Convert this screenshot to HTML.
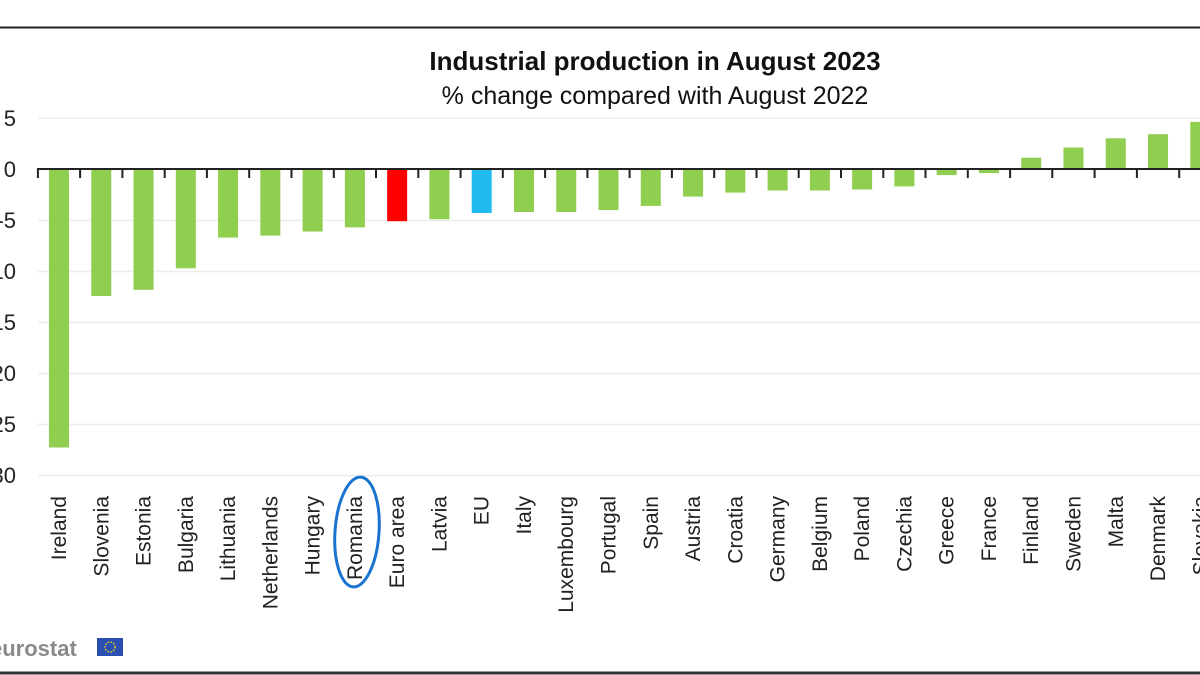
<!DOCTYPE html>
<html><head><style>body{margin:0;background:#fff}svg{display:block}</style></head>
<body>
<svg width="1200" height="675" xmlns="http://www.w3.org/2000/svg" font-family="Liberation Sans, Arial, sans-serif">
<rect width="1200" height="675" fill="#fff"/>
<line x1="0" y1="27.5" x2="1200" y2="27.5" stroke="#222" stroke-width="2"/>
<line x1="0" y1="673" x2="1200" y2="673" stroke="#333" stroke-width="3"/>
<text x="655" y="70" text-anchor="middle" font-size="26" font-weight="bold" fill="#111">Industrial production in August 2023</text>
<text x="655" y="104" text-anchor="middle" font-size="25" fill="#111">% change compared with August 2022</text>
<g stroke="#eee" stroke-width="1.5">
<line x1="38" x2="1200" y1="118" y2="118"/><line x1="38" x2="1200" y1="220.5" y2="220.5"/><line x1="38" x2="1200" y1="271.5" y2="271.5"/><line x1="38" x2="1200" y1="322.5" y2="322.5"/><line x1="38" x2="1200" y1="373.5" y2="373.5"/><line x1="38" x2="1200" y1="424.5" y2="424.5"/><line x1="38" x2="1200" y1="475.5" y2="475.5"/>
</g>
<g font-size="22" fill="#222" text-anchor="end">
<text x="16" y="126">5</text><text x="16" y="177">0</text><text x="16" y="228">-5</text><text x="16" y="279">-10</text><text x="16" y="330">-15</text><text x="16" y="381">-20</text><text x="16" y="432">-25</text><text x="16" y="483">-30</text>
</g>
<g fill="#8fce4e">
<rect x="49" y="169" width="20" height="278.5"/>
<rect x="91.27" y="169" width="20" height="127"/>
<rect x="133.54" y="169" width="20" height="120.8"/>
<rect x="175.81" y="169" width="20" height="99.3"/>
<rect x="218.08" y="169" width="20" height="68.6"/>
<rect x="260.35" y="169" width="20" height="66.6"/>
<rect x="302.62" y="169" width="20" height="62.5"/>
<rect x="344.89" y="169" width="20" height="58.4"/>
<rect x="387.16" y="169" width="20" height="52.2" fill="#ff0000"/>
<rect x="429.43" y="169" width="20" height="50.2"/>
<rect x="471.7" y="169" width="20" height="44" fill="#22bbf0"/>
<rect x="513.97" y="169" width="20" height="43"/>
<rect x="556.24" y="169" width="20" height="43"/>
<rect x="598.51" y="169" width="20" height="41"/>
<rect x="640.78" y="169" width="20" height="36.9"/>
<rect x="683.05" y="169" width="20" height="27.6"/>
<rect x="725.32" y="169" width="20" height="23.6"/>
<rect x="767.59" y="169" width="20" height="21.5"/>
<rect x="809.86" y="169" width="20" height="21.5"/>
<rect x="852.13" y="169" width="20" height="20.5"/>
<rect x="894.4" y="169" width="20" height="17.4"/>
<rect x="936.67" y="169" width="20" height="6.1"/>
<rect x="978.94" y="169" width="20" height="4.1"/>
<rect x="1021.21" y="157.7" width="20" height="11.3"/>
<rect x="1063.48" y="147.5" width="20" height="21.5"/>
<rect x="1105.75" y="138.3" width="20" height="30.7"/>
<rect x="1148.02" y="134.2" width="20" height="34.8"/>
<rect x="1190.29" y="121.9" width="20" height="47.1"/>
</g>
<line x1="37" y1="169" x2="1200" y2="169" stroke="#222" stroke-width="2"/>
<path stroke="#222" stroke-width="2" d="M37.9 169v9M80.1 169v9M122.4 169v9M164.7 169v9M206.9 169v9M249.2 169v9M291.5 169v9M333.8 169v9M376 169v9M418.3 169v9M460.6 169v9M502.8 169v9M545.1 169v9M587.4 169v9M629.6 169v9M671.9 169v9M714.2 169v9M756.5 169v9M798.7 169v9M841 169v9M883.3 169v9M925.5 169v9M967.8 169v9M1010.1 169v9M1052.3 169v9M1094.6 169v9M1136.9 169v9M1179.2 169v9"/>
<g font-size="21" fill="#222" text-anchor="end">
<text transform="translate(66,496) rotate(-90)">Ireland</text>
<text transform="translate(108.27,496) rotate(-90)">Slovenia</text>
<text transform="translate(150.54,496) rotate(-90)">Estonia</text>
<text transform="translate(192.81,496) rotate(-90)">Bulgaria</text>
<text transform="translate(235.08,496) rotate(-90)">Lithuania</text>
<text transform="translate(277.35,496) rotate(-90)">Netherlands</text>
<text transform="translate(319.62,496) rotate(-90)">Hungary</text>
<text transform="translate(361.89,496) rotate(-90)">Romania</text>
<text transform="translate(404.16,496) rotate(-90)">Euro area</text>
<text transform="translate(446.43,496) rotate(-90)">Latvia</text>
<text transform="translate(488.7,496) rotate(-90)">EU</text>
<text transform="translate(530.97,496) rotate(-90)">Italy</text>
<text transform="translate(573.24,496) rotate(-90)">Luxembourg</text>
<text transform="translate(615.51,496) rotate(-90)">Portugal</text>
<text transform="translate(657.78,496) rotate(-90)">Spain</text>
<text transform="translate(700.05,496) rotate(-90)">Austria</text>
<text transform="translate(742.32,496) rotate(-90)">Croatia</text>
<text transform="translate(784.59,496) rotate(-90)">Germany</text>
<text transform="translate(826.86,496) rotate(-90)">Belgium</text>
<text transform="translate(869.13,496) rotate(-90)">Poland</text>
<text transform="translate(911.4,496) rotate(-90)">Czechia</text>
<text transform="translate(953.67,496) rotate(-90)">Greece</text>
<text transform="translate(995.94,496) rotate(-90)">France</text>
<text transform="translate(1038.21,496) rotate(-90)">Finland</text>
<text transform="translate(1080.48,496) rotate(-90)">Sweden</text>
<text transform="translate(1122.75,496) rotate(-90)">Malta</text>
<text transform="translate(1165.02,496) rotate(-90)">Denmark</text>
<text transform="translate(1207.29,496) rotate(-90)">Slovakia</text>
</g>
<ellipse cx="357" cy="532" rx="22" ry="55" fill="none" stroke="#1a73d0" stroke-width="3" transform="rotate(4 357 532)"/>
<text x="-10" y="656" font-size="22" font-weight="bold" fill="#8a8a8a">eurostat</text>
<rect x="97" y="638" width="26" height="18" fill="#2a4fb0"/>
<circle cx="110" cy="647" r="5" fill="none" stroke="#e8d020" stroke-width="1.5" stroke-dasharray="1.5 1.5"/>
</svg>
</body></html>
